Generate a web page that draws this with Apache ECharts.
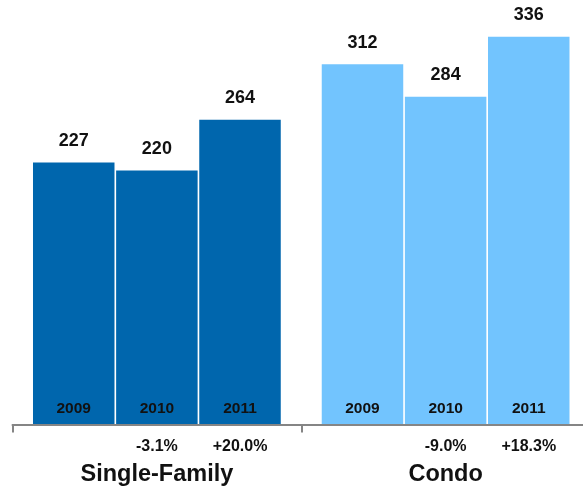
<!DOCTYPE html>
<html><head><meta charset="utf-8">
<script src="https://cdn.jsdelivr.net/npm/echarts@6/dist/echarts.min.js"></script>
<style>html,body{margin:0;padding:0;background:#fff;overflow:hidden}#c{width:590px;height:488px}</style>
</head><body><div id="c"></div>
<script>
const categories = ['Single-Family', 'Condo'];
const years = ['2009', '2010', '2011'];
const values2009 = [227, 312];
const values2010 = [220, 284];
const values2011 = [264, 336];
const change2010 = ['-3.1%', '-9.0%'];
const change2011 = ['+20.0%', '+18.3%'];

const seriesValues = [values2009, values2010, values2011];
const seriesChanges = [[' ', ' '], change2010, change2011];
const catColors = ['#0066AD', '#72C4FE'];
const FONT = '"Liberation Sans", Arial, Helvetica, sans-serif';

const series = [];
years.forEach((yr, i) => {
  const stack = 's' + yr;
  series.push({
    name: yr + '-base', type: 'bar', stack: stack, barWidth: 81.5, barGap: '2%',
    data: seriesValues[i].map(() => 0),
    itemStyle: { color: 'transparent' },
    label: {
      show: true, position: ['50%', 0], align: 'center', verticalAlign: 'middle',
      formatter: p => '{y|' + yr + '}\n{p|' + seriesChanges[i][p.dataIndex] + '}',
      rich: {
        y: { fontFamily: FONT, fontWeight: 'bold', fontSize: 15.5, color: '#111', lineHeight: 44, align: 'center' },
        p: { fontFamily: FONT, fontWeight: 'bold', fontSize: 16, color: '#111', lineHeight: 31, align: 'center' }
      }
    },
    silent: true
  });
  series.push({
    name: yr, type: 'bar', stack: stack, barWidth: 81.5, barGap: '2%',
    data: seriesValues[i].map((v, k) => ({ value: v, itemStyle: { color: catColors[k] } })),
    label: {
      show: true, position: 'top', distance: 12.5,
      fontFamily: FONT, fontWeight: 'bold', fontSize: 18, color: '#111'
    }
  });
});

const chart = echarts.init(document.getElementById('c'), null, { renderer: 'canvas' });
chart.setOption({
  animation: false,
  grid: { left: 12.5, right: 0, top: 20.5, bottom: 63.5 },
  xAxis: {
    type: 'category', data: categories,
    axisLine: { show: true, lineStyle: { color: '#858585', width: 2 } },
    axisTick: { show: true, length: 8, lineStyle: { color: '#858585', width: 2 } },
    axisLabel: { margin: 38, fontFamily: FONT, fontWeight: 'bold', fontSize: 23.5, color: '#111' },
    z: 10
  },
  yAxis: { type: 'value', min: 0, max: 350, show: false, splitLine: { show: false } },
  series: series
});
</script></body></html>
